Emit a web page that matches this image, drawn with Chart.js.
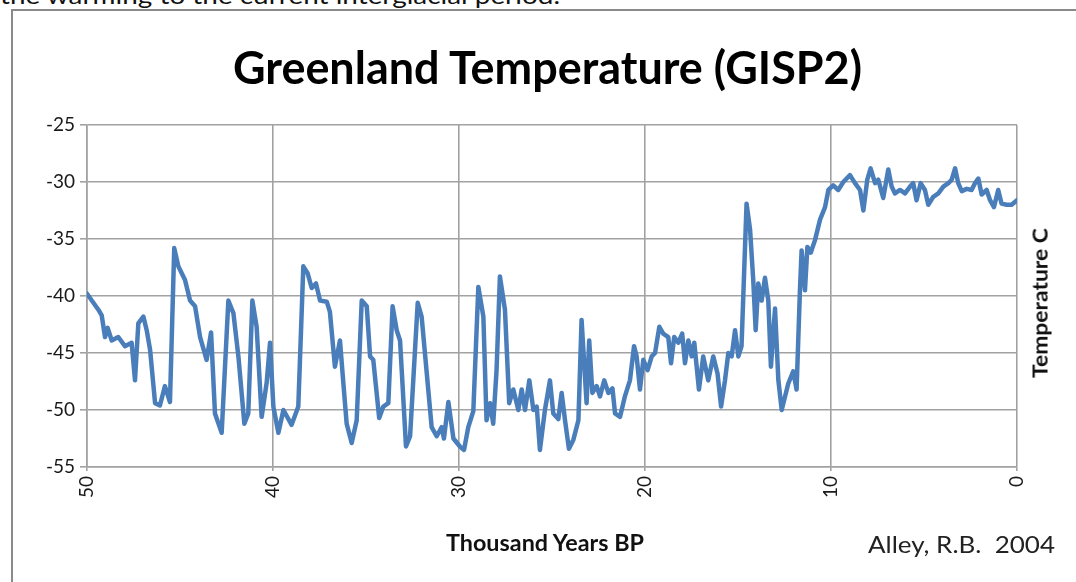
<!DOCTYPE html>
<html>
<head>
<meta charset="utf-8">
<script src="https://cdn.jsdelivr.net/npm/chart.js@4/dist/chart.umd.min.js"></script>
<style>
  html, body { margin: 0; padding: 0; background: #fff; overflow: hidden; }
  #wrap { position: relative; width: 1076px; height: 582px; overflow: hidden; background: #fff; }
  #frame { position: absolute; left: 11px; top: 9px; width: 1100px; height: 600px;
           border-left: 2px solid #8a8a8a; border-top: 2px solid #8a8a8a; box-sizing: border-box; }
  canvas { position: absolute; left: 0; top: 0; }
  .txt { position: absolute; white-space: nowrap; line-height: 1; transform-origin: 0 0; color: #111; }
  #lead { font-family: Lato, sans-serif; font-size: 23px; left: 0; top: -17px; color: #111; }
  #title { font-family: Lato, sans-serif; font-weight: 700; font-size: 46px; color: #000; }
  #xtitle { font-family: Lato, sans-serif; font-weight: 700; font-size: 22px; color: #111; }
  #credit { font-family: Lato, sans-serif; font-size: 24px; color: #222; }
  #ytitle { font-family: Lato, sans-serif; font-weight: 700; font-size: 20px; color: #111; transform-origin: 50% 50%; }
</style>
</head>
<body>
<div id="wrap">
  <div class="txt" id="lead">the warming to the current interglacial period.</div>
  <div id="frame"></div>
  <canvas id="chart" width="1076" height="582"></canvas>
  <div class="txt" id="title">Greenland Temperature (GISP2)</div>
  <div class="txt" id="xtitle">Thousand Years BP</div>
  <div class="txt" id="credit">Alley, R.B.&nbsp; 2004</div>
  <div class="txt" id="ytitle">Temperature C</div>
</div>
<script>
// GISP2 temperature record, thousand years before present
const ages = [
  50.00, 49.39, 49.21, 49.03, 48.89, 48.67, 48.32, 47.96, 47.60, 47.42,
  47.24, 46.97, 46.79, 46.61, 46.34, 46.08, 45.81, 45.54, 45.31, 45.09,
  44.73, 44.46, 44.19, 43.92, 43.57, 43.33, 43.12, 42.76, 42.40, 42.13,
  41.86, 41.54, 41.33, 41.11, 40.88, 40.61, 40.34, 40.16, 39.98, 39.71,
  39.44, 39.00, 38.64, 38.37, 38.14, 37.92, 37.69, 37.47, 37.11, 36.94,
  36.67, 36.40, 36.22, 36.04, 35.77, 35.50, 35.23, 34.96, 34.78, 34.61,
  34.29, 34.07, 33.80, 33.57, 33.35, 33.17, 32.85, 32.63, 32.22, 32.01,
  31.47, 31.20, 30.93, 30.81, 30.57, 30.30, 29.95, 29.73, 29.50, 29.23,
  28.96, 28.69, 28.52, 28.33, 28.16, 27.98, 27.80, 27.53, 27.30, 27.08,
  26.81, 26.63, 26.45, 26.22, 26.00, 25.82, 25.65, 25.38, 25.11, 24.93,
  24.66, 24.48, 24.30, 24.09, 23.85, 23.58, 23.41, 23.26, 23.14, 23.00,
  22.83, 22.60, 22.42, 22.19, 21.97, 21.75, 21.61, 21.34, 21.08, 20.81,
  20.59, 20.45, 20.27, 20.09, 19.86, 19.64, 19.46, 19.23, 19.02, 18.75,
  18.60, 18.43, 18.21, 18.00, 17.85, 17.67, 17.49, 17.35, 17.10, 16.87,
  16.60, 16.33, 16.10, 15.91, 15.70, 15.52, 15.34, 15.16, 14.98, 14.81,
  14.54, 14.35, 14.18, 14.05, 13.91, 13.73, 13.55, 13.37, 13.23, 13.01,
  12.83, 12.65, 12.30, 12.03, 11.85, 11.67, 11.58, 11.40, 11.27, 11.09,
  10.86, 10.59, 10.32, 10.14, 9.88, 9.61, 9.34, 8.98, 8.71, 8.44,
  8.26, 8.05, 7.87, 7.63, 7.46, 7.19, 6.92, 6.74, 6.56, 6.29,
  6.02, 5.75, 5.58, 5.40, 5.18, 4.95, 4.77, 4.50, 4.23, 3.96,
  3.69, 3.51, 3.33, 3.16, 2.97, 2.71, 2.44, 2.26, 2.08, 1.90,
  1.63, 1.45, 1.24, 1.01, 0.83, 0.56, 0.29, 0.00
];
const temps = [
  -39.8, -41.2, -41.7, -43.6, -42.8, -43.9, -43.6, -44.4, -44.1, -47.4,
  -42.4, -41.8, -43.0, -44.7, -49.4, -49.6, -47.9, -49.3, -35.8, -37.4,
  -38.6, -40.4, -40.9, -43.6, -45.6, -43.2, -50.3, -52.0, -40.4, -41.5,
  -45.3, -51.2, -50.3, -40.4, -42.7, -50.6, -47.6, -44.1, -49.7, -52.0,
  -50.0, -51.3, -49.7, -37.4, -38.0, -39.3, -38.9, -40.4, -40.5, -41.4,
  -46.2, -43.9, -47.6, -51.2, -52.9, -50.9, -40.4, -40.9, -45.3, -45.6,
  -50.7, -49.7, -49.4, -40.9, -43.0, -43.9, -53.2, -52.3, -40.6, -41.8,
  -51.5, -52.3, -51.5, -52.5, -49.3, -52.5, -53.2, -53.5, -51.5, -50.1,
  -39.2, -41.8, -50.9, -49.4, -51.2, -46.5, -38.3, -41.2, -49.4, -48.2,
  -50.0, -48.2, -50.0, -47.4, -50.0, -49.7, -53.5, -50.0, -47.4, -50.3,
  -50.8, -48.5, -50.9, -53.4, -52.6, -50.9, -42.1, -46.2, -49.4, -43.9,
  -48.5, -47.9, -48.8, -47.4, -48.5, -48.1, -50.3, -50.6, -48.8, -47.4,
  -44.4, -45.3, -48.2, -45.6, -46.5, -45.3, -45.0, -42.7, -43.3, -43.6,
  -45.9, -43.6, -44.1, -43.3, -45.9, -43.9, -45.3, -44.1, -48.2, -45.3,
  -47.4, -45.3, -46.8, -49.7, -47.4, -45.0, -45.3, -43.0, -45.3, -44.4,
  -31.9, -34.2, -38.6, -43.0, -38.9, -40.4, -38.4, -40.4, -46.2, -41.1,
  -47.4, -50.0, -47.7, -46.6, -48.2, -39.5, -36.0, -39.5, -35.7, -36.2,
  -35.1, -33.3, -32.2, -30.7, -30.3, -30.7, -30.0, -29.4, -30.1, -30.7,
  -32.5, -29.8, -28.8, -30.1, -29.8, -31.4, -28.9, -30.4, -31.0, -30.7,
  -31.0, -30.4, -30.1, -31.6, -30.1, -30.7, -32.0, -31.3, -31.0, -30.4,
  -30.1, -29.8, -28.8, -30.1, -30.8, -30.6, -30.7, -30.1, -29.7, -31.1,
  -30.7, -31.6, -32.2, -30.7, -31.9, -32.0, -32.0, -31.6
];
const xTickValues = [50, 40, 30, 20, 10, 0];
const yTickValues = [-25, -30, -35, -40, -45, -50, -55];

const gridColor = '#a2a2a2';
const tickFont = { family: 'Lato, sans-serif', size: 19 };

new Chart(document.getElementById('chart'), {
  type: 'line',
  data: {
    datasets: [{
      data: ages.map((a, i) => ({ x: a, y: temps[i] })),
      borderColor: '#4a7ebb',
      borderWidth: 4.5,
      borderJoinStyle: 'round',
      borderCapStyle: 'round',
      pointRadius: 0,
      tension: 0,
      fill: false
    }]
  },
  options: {
    responsive: false,
    animation: false,
    parsing: false,
    layout: { padding: { left: 0, right: 59, top: 125, bottom: 55 } },
    plugins: { legend: { display: false }, tooltip: { enabled: false }, title: { display: false } },
    scales: {
      x: {
        type: 'linear',
        reverse: true,
        min: 0,
        max: 50,
        afterBuildTicks: s => { s.ticks = xTickValues.map(v => ({ value: v })); },
        afterFit: s => { s.height = 60; },
        grid: { color: gridColor, lineWidth: 1.6, tickLength: 4, drawTicks: true },
        border: { color: gridColor, width: 1.6 },
        ticks: { font: tickFont, color: '#1a1a1a', minRotation: 90, maxRotation: 90, padding: 5, autoSkip: false }
      },
      y: {
        min: -55,
        max: -25,
        afterBuildTicks: s => { s.ticks = yTickValues.map(v => ({ value: v })); },
        afterFit: s => { s.width = 87; },
        grid: { color: gridColor, lineWidth: 1.6, tickLength: 7, drawTicks: true },
        border: { color: gridColor, width: 1.6 },
        ticks: { font: tickFont, color: '#1a1a1a', padding: 5 }
      }
    }
  }
});

// Fit each caption to its slot: [id, left, width, baseline]
function place(id, left, width, baseline) {
  const el = document.getElementById(id);
  const fs = parseFloat(getComputedStyle(el).fontSize);
  const w = el.getBoundingClientRect().width;
  el.style.left = left + 'px';
  el.style.top = (baseline - 0.887 * fs) + 'px';
  el.style.transform = 'scaleX(' + (width / w) + ')';
}
place('lead', 0, 560, 4);
place('title', 233, 629, 85);
place('xtitle', 446, 198, 552);
place('credit', 868, 187, 553);

// Vertical axis caption on the right, reading upward
(function () {
  const el = document.getElementById('ytitle');
  const r = el.getBoundingClientRect();
  const s = 150 / r.width;
  el.style.left = (1040 - r.width / 2) + 'px';
  el.style.top = (303 - r.height / 2) + 'px';
  el.style.transform = 'rotate(-90deg) scaleX(' + s + ')';
})();
</script>
</body>
</html>
